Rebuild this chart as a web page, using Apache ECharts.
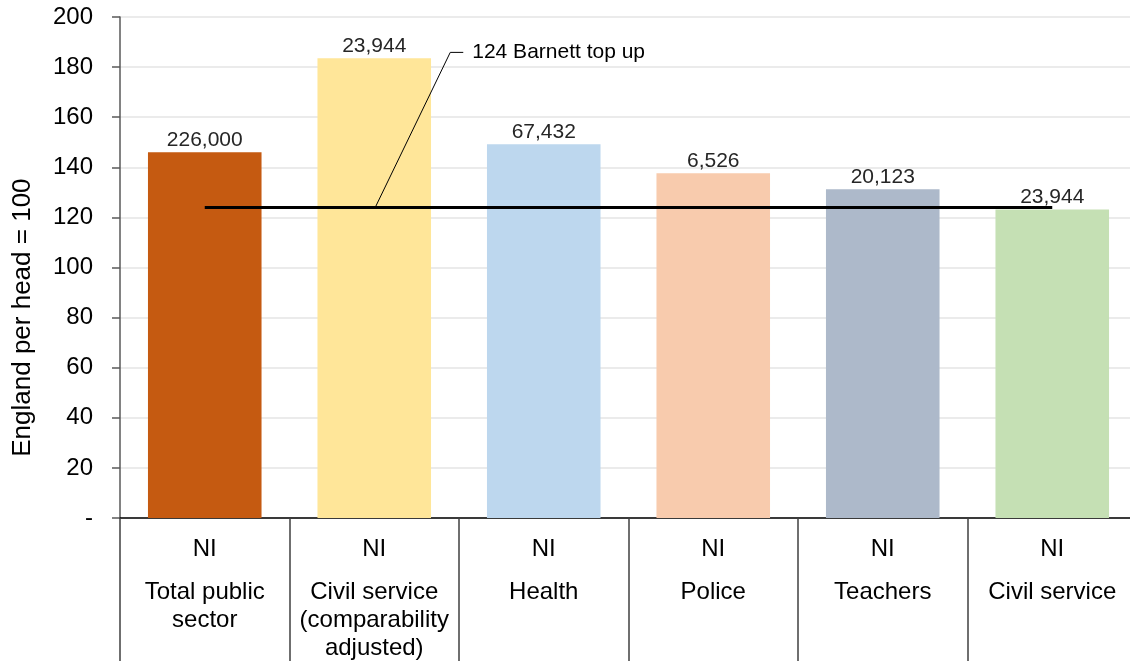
<!DOCTYPE html>
<html>
<head>
<meta charset="utf-8">
<script src="https://cdn.jsdelivr.net/npm/echarts@6/dist/echarts.min.js"></script>
<style>
  html, body { margin: 0; padding: 0; background: #fff; }
  #chart { width: 1130px; height: 661px; }
</style>
</head>
<body>
<div id="chart"></div>
<script>
// data
var categories = ['Total public\nsector', 'Civil service\n(comparability\nadjusted)', 'Health', 'Police', 'Teachers', 'Civil service'];
var values = [146, 183.5, 149.2, 137.6, 131.2, 123.2];
var headcounts = ['226,000', '23,944', '67,432', '6,526', '20,123', '23,944'];
var barColors = ['#C55A11', '#FFE699', '#BDD7EE', '#F8CBAD', '#ADB9CA', '#C5E0B4'];
var barnett = 124;
var barnettLabel = '124 Barnett top up';
var yTitle = 'England per head = 100';

var myChart = echarts.init(document.getElementById('chart'));

var font = 'Liberation Sans, Arial, sans-serif';

var option = {
    animation: false,
    grid: { left: 120, top: 17, bottom: 143, width: 1017, outerBoundsMode: 'none', containLabel: false },
    xAxis: {
        type: 'category',
        data: categories,
        axisLine: { lineStyle: { color: '#000', width: 1.5 } },
        axisTick: { show: true, length: 145, lineStyle: { color: '#404040', width: 1.5 } },
        axisLabel: {
            interval: 0,
            margin: 2,
            formatter: function (v) {
                var lines = v.split('\n').map(function (l) { return '{b|' + l + '}'; });
                return '{a|NI}\n' + lines.join('\n');
            },
            rich: {
                a: { fontFamily: font, fontSize: 24, color: '#000', lineHeight: 58 },
                b: { fontFamily: font, fontSize: 24, color: '#000', lineHeight: 28 }
            }
        }
    },
    yAxis: {
        type: 'value',
        min: 0,
        max: 200,
        interval: 20,
        axisLine: { show: true, lineStyle: { color: '#595959', width: 1.5 } },
        axisTick: { show: true, length: 8, lineStyle: { color: '#595959', width: 1.5 } },
        axisLabel: {
            margin: 27,
            fontFamily: font,
            fontSize: 24,
            color: '#000',
            formatter: function (v) { return v === 0 ? '-' : v; }
        },
        splitLine: { lineStyle: { color: '#e4e4e4', width: 1.5 } }
    },
    series: [
        {
            type: 'bar',
            barCategoryGap: '33%',
            data: values.map(function (v, i) {
                return { value: v, itemStyle: { color: barColors[i] } };
            }),
            label: {
                show: true,
                position: 'top',
                distance: 2,
                fontFamily: font,
                fontSize: 21,
                color: '#262626',
                formatter: function (p) { return headcounts[p.dataIndex]; }
            }
        },
        {
            type: 'line',
            data: categories.map(function () { return barnett; }),
            symbol: 'none',
            lineStyle: { color: '#000', width: 3 },
            z: 5
        }
    ]
};

myChart.setOption(option, true);

// annotation leader line for the Barnett line + y title
var p = myChart.convertToPixel({ xAxisIndex: 0, yAxisIndex: 0 }, [1, barnett]);
var ax = p[0] + 1, ay = p[1];
var titleY = myChart.convertToPixel({ yAxisIndex: 0 }, 80);
myChart.setOption({
    graphic: [
        {
            type: 'polyline',
            shape: { points: [[ax, ay], [ax + 75, ay - 155], [ax + 88, ay - 155]] },
            style: { stroke: '#000', lineWidth: 1, fill: null },
            z: 10
        },
        {
            type: 'text',
            x: ax + 97,
            y: ay - 155,
            style: {
                text: barnettLabel,
                fontFamily: font,
                fontSize: 21,
                fill: '#000',
                verticalAlign: 'middle'
            },
            z: 10
        },
        {
            type: 'text',
            x: 23,
            y: titleY,
            rotation: Math.PI / 2,
            style: {
                text: yTitle,
                fontFamily: font,
                fontSize: 26,
                fill: '#000',
                align: 'center',
                verticalAlign: 'middle'
            },
            z: 10
        }
    ]
});
</script>
</body>
</html>
